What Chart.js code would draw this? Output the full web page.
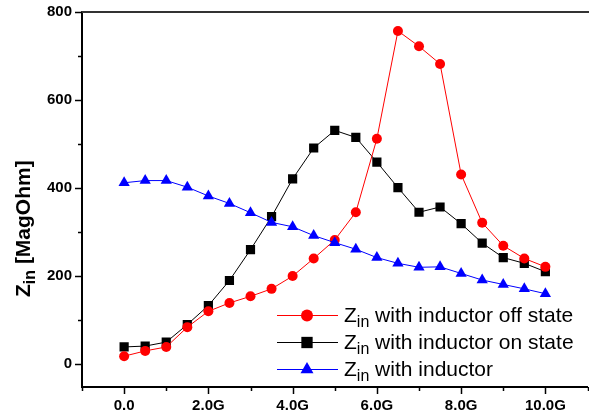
<!DOCTYPE html>
<html>
<head>
<meta charset="utf-8">
<script src="https://cdn.jsdelivr.net/npm/chart.js@4/dist/chart.umd.min.js"></script>
<style>
    html, body { margin: 0; padding: 0; background: #fff; overflow: hidden; }
    #wrap { width: 589px; height: 419px; overflow: hidden; }
</style>
</head>
<body>
<div id="wrap"><canvas id="chart" width="594" height="419"></canvas></div>
<script>
// frequency (GHz) and input impedance (MagOhm)
var freqs = [0, 0.5, 1, 1.5, 2, 2.5, 3, 3.5, 4, 4.5, 5, 5.5, 6, 6.5, 7, 7.5, 8, 8.5, 9, 9.5, 10];
var zinOff = [18, 30, 39, 84, 120, 139, 154, 171, 200, 240, 282, 345, 512, 757, 722, 682, 431, 321, 269, 240, 221];
var zinOn = [39, 41, 50, 90, 133, 190, 260, 335, 421, 491, 531, 515, 459, 401, 345, 357, 319, 275, 242, 229, 210];
var zinInd = [412, 417, 417, 402, 382, 365, 344, 322, 312, 292, 276, 261, 242, 229, 220, 221, 206, 191, 181, 171, 160];
var xTicks = [-1, 0, 1, 2, 3, 4, 5, 6, 7, 8, 9, 10, 11];
var yTicks = [0, 100, 200, 300, 400, 500, 600, 700, 800];
var legendLabels = ["with inductor off state", "with inductor on state", "with inductor"];

var FONT = '"Liberation Sans", Arial, sans-serif';

function pts(arr) {
    return freqs.map(function (f, i) { return { x: f, y: arr[i] }; });
}

function marker(ctx, style, r, x, y) {
    ctx.beginPath();
    if (style === 'circle') {
        ctx.arc(x, y, r, 0, Math.PI * 2);
    } else if (style === 'rect') {
        var s = r * Math.SQRT1_2;
        ctx.rect(x - s, y - s, 2 * s, 2 * s);
    } else {
        ctx.moveTo(x, y - r);
        ctx.lineTo(x + r * 0.866, y + r * 0.5);
        ctx.lineTo(x - r * 0.866, y + r * 0.5);
        ctx.closePath();
    }
    ctx.fill();
}

// Z with subscript "in", then the rest of the text
function zin(ctx, x, y, size, bold, rest) {
    var w = bold ? 'bold ' : '';
    ctx.font = w + size + 'px ' + FONT;
    ctx.fillText('Z', x, y);
    x += ctx.measureText('Z').width;
    var sub = Math.round(size * 0.75);
    ctx.font = w + sub + 'px ' + FONT;
    ctx.fillText('in', x, y + size * 0.22);
    x += ctx.measureText('in').width;
    ctx.font = w + size + 'px ' + FONT;
    ctx.fillText(' ' + rest, x, y);
    return x + ctx.measureText(' ' + rest).width;
}

var extras = {
    id: 'extras',
    afterDraw: function (chart) {
        var ctx = chart.ctx;
        var area = chart.chartArea;
        var xs = chart.scales.x, ys = chart.scales.y;
        ctx.save();

        // top frame line
        ctx.strokeStyle = '#333';
        ctx.lineWidth = 2;
        ctx.beginPath();
        ctx.moveTo(area.left - 1, area.top);
        ctx.lineTo(chart.width, area.top);
        ctx.stroke();

        // ticks, long ones at labelled values
        ctx.strokeStyle = '#000';
        ctx.lineWidth = 1.5;
        xs.ticks.forEach(function (t) {
            var px = Math.round(xs.getPixelForValue(t.value)) + 0.5;
            var len = (t.value >= 0 && t.value % 2 === 0) ? 7 : 4;
            ctx.beginPath();
            ctx.moveTo(px, area.bottom);
            ctx.lineTo(px, area.bottom + len);
            ctx.stroke();
        });
        ys.ticks.forEach(function (t) {
            var py = Math.round(ys.getPixelForValue(t.value)) + 0.5;
            var len = (t.value % 200 === 0) ? 7 : 4;
            ctx.beginPath();
            ctx.moveTo(area.left, py);
            ctx.lineTo(area.left - len, py);
            ctx.stroke();
        });

        // y axis title
        ctx.fillStyle = '#000';
        ctx.textBaseline = 'alphabetic';
        ctx.textAlign = 'left';
        ctx.translate(30, 297);
        ctx.rotate(-Math.PI / 2);
        zin(ctx, 0, 0, 21, true, '[MagOhm]');
        ctx.setTransform(1, 0, 0, 1, 0, 0);

        // legend
        var rows = [315, 342, 369];
        var sets = [chart.data.datasets[0], chart.data.datasets[1], chart.data.datasets[2]];
        var sizes = [6, 8, 7.5];
        sets.forEach(function (ds, i) {
            var y = rows[i];
            ctx.strokeStyle = ds.borderColor;
            ctx.lineWidth = 1;
            ctx.beginPath();
            ctx.moveTo(277, y + 0.5);
            ctx.lineTo(338, y + 0.5);
            ctx.stroke();
            ctx.fillStyle = ds.backgroundColor;
            marker(ctx, ds.pointStyle, sizes[i], 307, y + 0.5);
            ctx.fillStyle = '#000';
            zin(ctx, 344, y + 7, 21, false, legendLabels[i]);
        });
        ctx.restore();
    }
};

var canvas = document.getElementById('chart').getContext('2d');
window.line = new Chart(canvas, {
    type: 'line',
    data: {
        datasets: [{
                label: 'Zin ' + legendLabels[0],
                data: pts(zinOff),
                borderColor: '#ff0000',
                backgroundColor: '#ff0000',
                borderWidth: 1,
                pointStyle: 'circle',
                pointRadius: 5,
                pointBorderWidth: 0,
                order: 2
            },
            {
                label: 'Zin ' + legendLabels[1],
                data: pts(zinOn),
                borderColor: '#000000',
                backgroundColor: '#000000',
                borderWidth: 1,
                pointStyle: 'rect',
                pointRadius: 6.5,
                pointBorderWidth: 0,
                order: 3
            },
            {
                label: 'Zin ' + legendLabels[2],
                data: pts(zinInd),
                borderColor: '#0000ff',
                backgroundColor: '#0000ff',
                borderWidth: 1,
                pointStyle: 'triangle',
                pointRadius: 6.5,
                pointBorderWidth: 0,
                order: 1
            }
        ]
    },
    options: {
        responsive: false,
        animation: false,
        events: [],
        layout: { padding: { top: 10, left: 0, right: 0, bottom: 0 } },
        plugins: {
            legend: { display: false },
            title: { display: false },
            tooltip: { enabled: false }
        },
        scales: {
            x: {
                type: 'linear',
                min: -1,
                max: 11,
                afterBuildTicks: function (scale) {
                    scale.ticks = xTicks.map(function (v) { return { value: v }; });
                },
                afterFit: function (scale) { scale.height = 32; },
                grid: { drawOnChartArea: false, tickLength: 7, tickColor: 'rgba(0,0,0,0)' },
                border: { color: '#000', width: 2 },
                ticks: {
                    autoSkip: false,
                    maxRotation: 0,
                    padding: 3,
                    color: '#000',
                    font: { family: FONT, size: 15, weight: 'bold' },
                    callback: function (v) {
                        if (v < 0 || v % 2 !== 0) return '';
                        return v === 0 ? '0.0' : v.toFixed(1) + 'G';
                    }
                }
            },
            y: {
                min: -52,
                max: 800,
                afterBuildTicks: function (scale) {
                    scale.ticks = yTicks.map(function (v) { return { value: v }; });
                },
                afterFit: function (scale) { scale.width = 82; },
                grid: { drawOnChartArea: false, tickLength: 7, tickColor: 'rgba(0,0,0,0)' },
                border: { color: '#000', width: 2 },
                ticks: {
                    autoSkip: false,
                    padding: 3,
                    color: '#000',
                    font: { family: FONT, size: 15, weight: 'bold' },
                    callback: function (v) {
                        return v % 200 === 0 ? String(v) : '';
                    }
                }
            }
        }
    },
    plugins: [extras]
});
</script>
</body>
</html>
